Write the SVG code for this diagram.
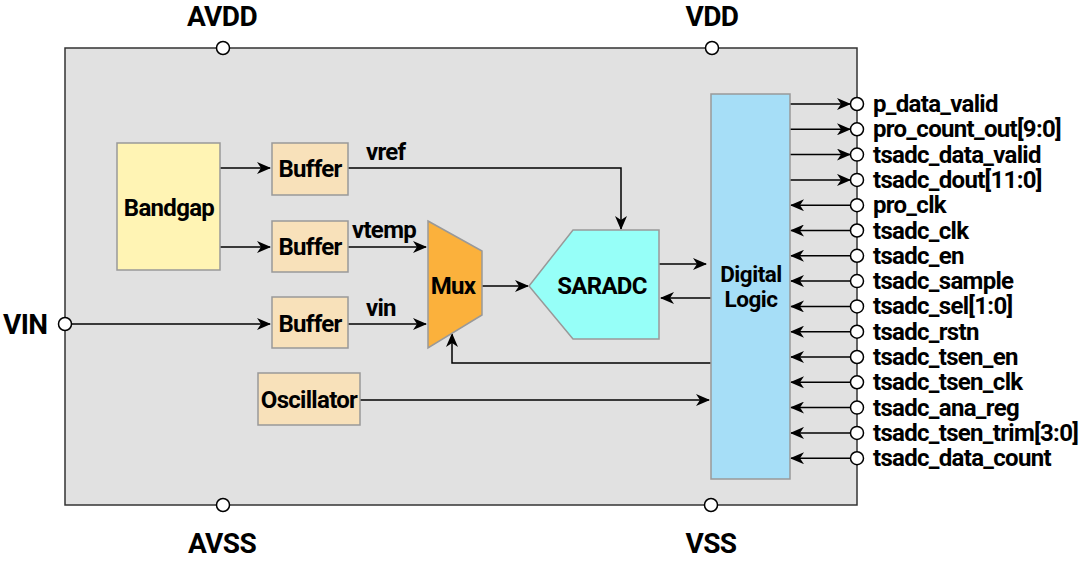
<svg xmlns="http://www.w3.org/2000/svg" width="1080" height="563" viewBox="0 0 1080 563">
<defs>
<style>
text{font-family:Roboto,"Liberation Sans",sans-serif;font-weight:bold;fill:#000}
.blk{stroke:#999;stroke-width:1.5}
.pin{fill:#fff;stroke:#000;stroke-width:1.5}
.w{fill:none;stroke:#000;stroke-width:1.5}
.big{font-size:28px;letter-spacing:-0.6px}
.lbl{font-size:24px;letter-spacing:-0.7px}
.dl{font-size:22.5px;letter-spacing:-0.5px}
.sig{font-size:24px;letter-spacing:-0.7px}
</style>
<marker id="ah" markerUnits="userSpaceOnUse" markerWidth="14" markerHeight="12" viewBox="0 0 14 12" refX="13" refY="6" orient="auto">
<path d="M0,0 L14,6 L0,12 L4,6 Z" fill="#000"/>
</marker>
</defs>
<rect width="1080" height="563" fill="#fff"/>
<g id="chip">
<rect x="65" y="48" width="792" height="457" fill="#E1E1E1" stroke="#333" stroke-width="1.5"/>
</g>
<g id="connectors">
<path class="w" d="M220,168 H270" marker-end="url(#ah)"/>
<path class="w" d="M220,247 H270" marker-end="url(#ah)"/>
<path class="w" d="M72,324 H270" marker-end="url(#ah)"/>
<path class="w" d="M348,168 H621 V229" marker-end="url(#ah)"/>
<path class="w" d="M348,247 H426" marker-end="url(#ah)"/>
<path class="w" d="M348,324 H426" marker-end="url(#ah)"/>
<path class="w" d="M482,286 H528" marker-end="url(#ah)"/>
<path class="w" d="M659,264 H706" marker-end="url(#ah)"/>
<path class="w" d="M711,298 H661" marker-end="url(#ah)"/>
<path class="w" d="M711,363 H452 V334" marker-end="url(#ah)"/>
<path class="w" d="M360,400 H709" marker-end="url(#ah)"/>
<path class="w" d="M790,104 H850" marker-end="url(#ah)"/>
<path class="w" d="M790,129.3 H850" marker-end="url(#ah)"/>
<path class="w" d="M790,154.6 H850" marker-end="url(#ah)"/>
<path class="w" d="M790,179.9 H850" marker-end="url(#ah)"/>
<path class="w" d="M850,205.2 H791" marker-end="url(#ah)"/>
<path class="w" d="M850,230.5 H791" marker-end="url(#ah)"/>
<path class="w" d="M850,255.8 H791" marker-end="url(#ah)"/>
<path class="w" d="M850,281.1 H791" marker-end="url(#ah)"/>
<path class="w" d="M850,306.4 H791" marker-end="url(#ah)"/>
<path class="w" d="M850,331.7 H791" marker-end="url(#ah)"/>
<path class="w" d="M850,357 H791" marker-end="url(#ah)"/>
<path class="w" d="M850,382.3 H791" marker-end="url(#ah)"/>
<path class="w" d="M850,407.6 H791" marker-end="url(#ah)"/>
<path class="w" d="M850,432.9 H791" marker-end="url(#ah)"/>
<path class="w" d="M850,458.2 H791" marker-end="url(#ah)"/>
</g>
<g id="bandgap">
<rect class="blk" x="117" y="143" width="103" height="127" fill="#FFF4B4"/>
<text class="lbl" x="169" y="216" text-anchor="middle">Bandgap</text>
</g>
<g id="buffer1">
<rect class="blk" x="272" y="143" width="76" height="52" fill="#F8E1BA"/>
<text class="lbl" x="310" y="177" text-anchor="middle">Buffer</text>
</g>
<g id="buffer2">
<rect class="blk" x="272" y="221" width="76" height="51" fill="#F8E1BA"/>
<text class="lbl" x="310" y="255" text-anchor="middle">Buffer</text>
</g>
<g id="buffer3">
<rect class="blk" x="272" y="297" width="76" height="51" fill="#F8E1BA"/>
<text class="lbl" x="310" y="332" text-anchor="middle">Buffer</text>
</g>
<g id="oscillator">
<rect class="blk" x="258" y="373" width="102" height="52" fill="#F8E1BA"/>
<text class="lbl" x="309" y="408" text-anchor="middle">Oscillator</text>
</g>
<g id="mux">
<path class="blk" d="M428,221 L482,251 L482,315 L428,348 Z" fill="#FBB13C"/>
<text class="lbl" x="453" y="294" text-anchor="middle">Mux</text>
</g>
<g id="saradc">
<path class="blk" d="M529,286 L573,230 L659,230 L659,339 L573,339 Z" fill="#96FFF8"/>
<text class="lbl" x="602" y="294" text-anchor="middle">SARADC</text>
</g>
<g id="digital">
<rect class="blk" x="711" y="94" width="79" height="385" fill="#A6DEF7"/>
<text class="dl" x="751" y="282" text-anchor="middle">Digital</text>
<text class="dl" x="751" y="307" text-anchor="middle">Logic</text>
</g>
<g id="netlabels">
<text class="lbl" x="366" y="160">vref</text>
<text class="lbl" x="352" y="238">vtemp</text>
<text class="lbl" x="366" y="316">vin</text>
</g>
<g id="pins">
<circle class="pin" cx="223" cy="48" r="6.5"/>
<circle class="pin" cx="712" cy="48" r="6.5"/>
<circle class="pin" cx="223" cy="505" r="6.5"/>
<circle class="pin" cx="711" cy="505" r="6.5"/>
<circle class="pin" cx="65" cy="324" r="6.5"/>
<text class="big" x="222" y="26" text-anchor="middle">AVDD</text>
<text class="big" x="712" y="26" text-anchor="middle">VDD</text>
<text class="big" x="222" y="553" text-anchor="middle">AVSS</text>
<text class="big" x="711" y="553" text-anchor="middle">VSS</text>
<text class="big" x="3" y="334">VIN</text>
</g>
<g id="rightpins">
<circle class="pin" cx="857" cy="104" r="6.5"/>
<circle class="pin" cx="857" cy="129.3" r="6.5"/>
<circle class="pin" cx="857" cy="154.6" r="6.5"/>
<circle class="pin" cx="857" cy="179.9" r="6.5"/>
<circle class="pin" cx="857" cy="205.2" r="6.5"/>
<circle class="pin" cx="857" cy="230.5" r="6.5"/>
<circle class="pin" cx="857" cy="255.8" r="6.5"/>
<circle class="pin" cx="857" cy="281.1" r="6.5"/>
<circle class="pin" cx="857" cy="306.4" r="6.5"/>
<circle class="pin" cx="857" cy="331.7" r="6.5"/>
<circle class="pin" cx="857" cy="357" r="6.5"/>
<circle class="pin" cx="857" cy="382.3" r="6.5"/>
<circle class="pin" cx="857" cy="407.6" r="6.5"/>
<circle class="pin" cx="857" cy="432.9" r="6.5"/>
<circle class="pin" cx="857" cy="458.2" r="6.5"/>
<text class="sig" x="873" y="112">p_data_valid</text>
<text class="sig" x="873" y="137.3">pro_count_out[9:0]</text>
<text class="sig" x="873" y="162.6">tsadc_data_valid</text>
<text class="sig" x="873" y="187.9">tsadc_dout[11:0]</text>
<text class="sig" x="873" y="213.2">pro_clk</text>
<text class="sig" x="873" y="238.5">tsadc_clk</text>
<text class="sig" x="873" y="263.8">tsadc_en</text>
<text class="sig" x="873" y="289.1">tsadc_sample</text>
<text class="sig" x="873" y="314.4">tsadc_sel[1:0]</text>
<text class="sig" x="873" y="339.7">tsadc_rstn</text>
<text class="sig" x="873" y="365">tsadc_tsen_en</text>
<text class="sig" x="873" y="390.3">tsadc_tsen_clk</text>
<text class="sig" x="873" y="415.6">tsadc_ana_reg</text>
<text class="sig" x="873" y="440.9">tsadc_tsen_trim[3:0]</text>
<text class="sig" x="873" y="466.2">tsadc_data_count</text>
</g>
</svg>
